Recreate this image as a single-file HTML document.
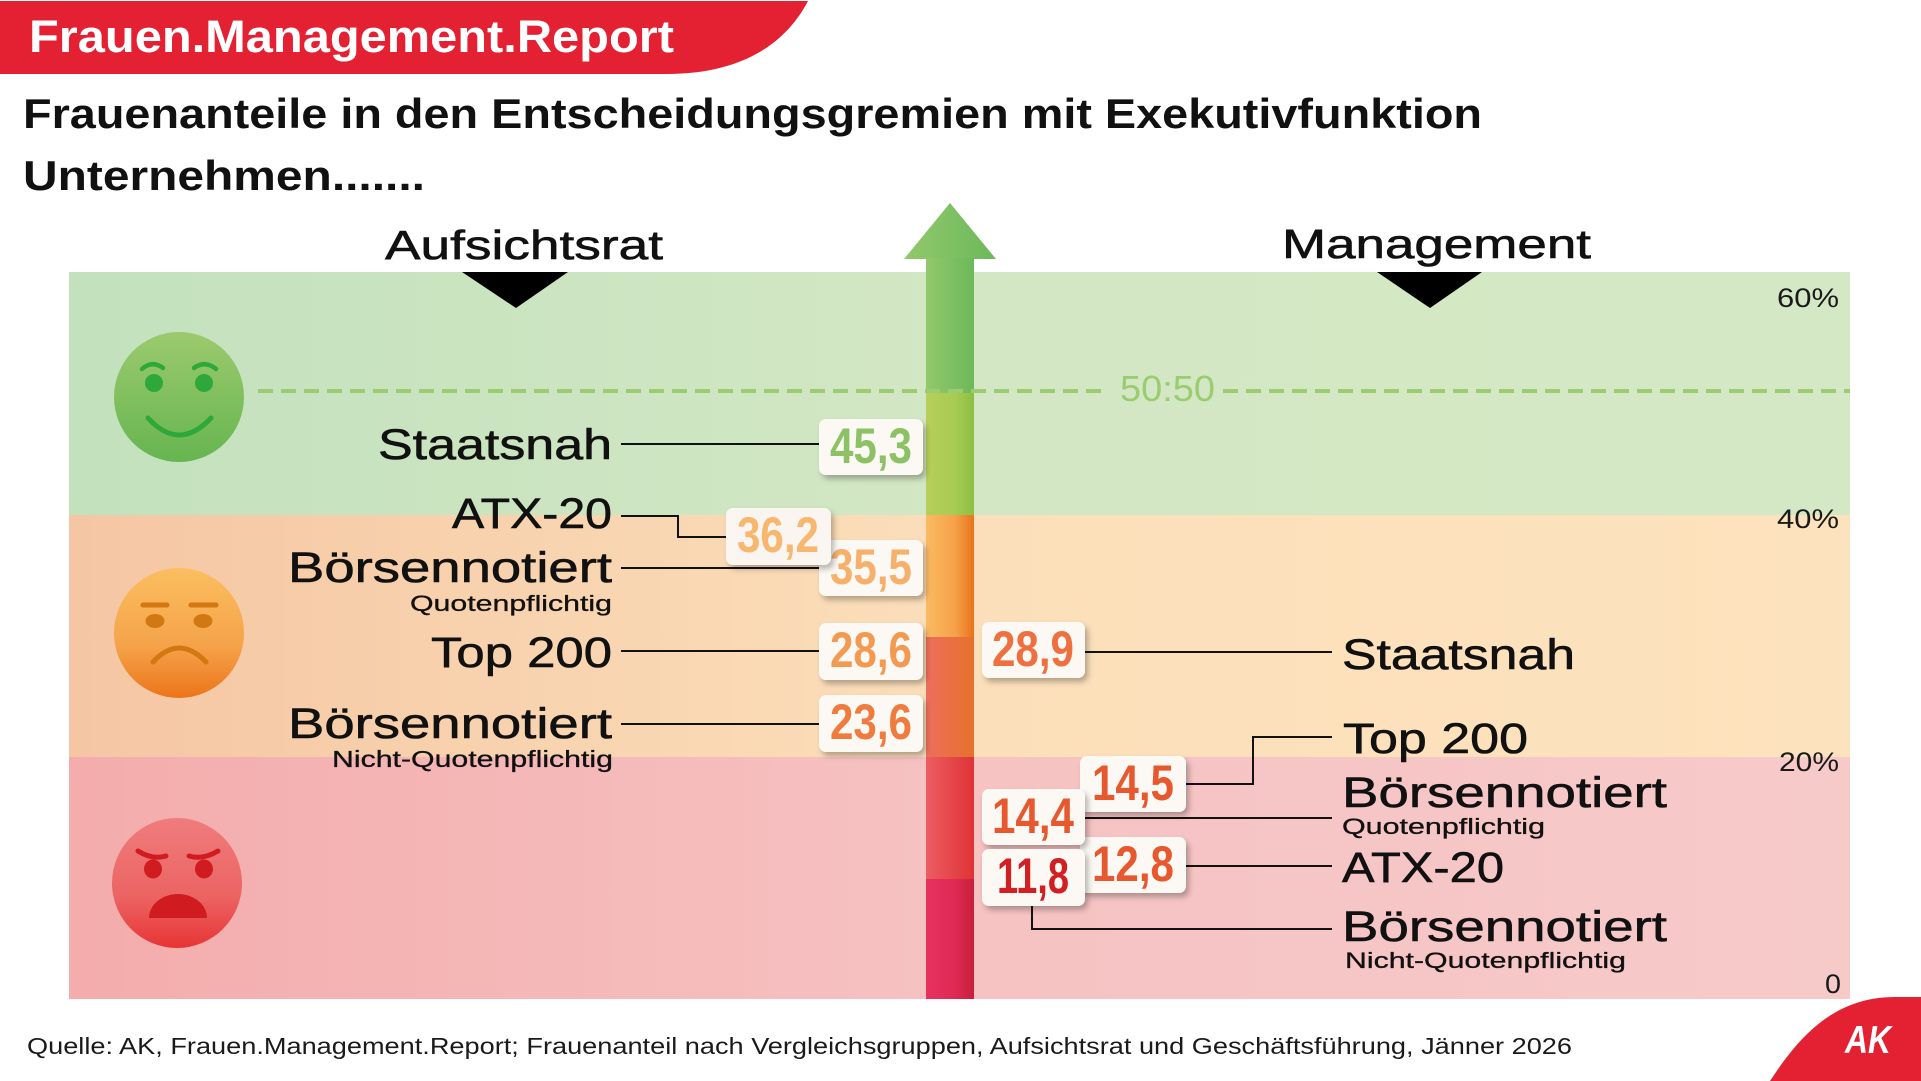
<!DOCTYPE html>
<html>
<head>
<meta charset="utf-8">
<style>
html,body{margin:0;padding:0;background:#fff;}
body{width:1921px;height:1081px;overflow:hidden;}
svg{display:block;}
text{font-family:"Liberation Sans",Arial,sans-serif;}
</style>
</head>
<body>
<svg width="1921" height="1081" viewBox="0 0 1921 1081" xmlns="http://www.w3.org/2000/svg">
<defs>
  <linearGradient id="bg1" x1="69" y1="0" x2="1850" y2="0" gradientUnits="userSpaceOnUse">
    <stop offset="0" stop-color="#c3e1bd"/><stop offset="0.5" stop-color="#d3e7c4"/><stop offset="1" stop-color="#d5e8c5"/>
  </linearGradient>
  <linearGradient id="bg2" x1="69" y1="0" x2="1850" y2="0" gradientUnits="userSpaceOnUse">
    <stop offset="0" stop-color="#f5c6a3"/><stop offset="0.5" stop-color="#fbdfba"/><stop offset="1" stop-color="#fde3bd"/>
  </linearGradient>
  <linearGradient id="bg3" x1="69" y1="0" x2="1850" y2="0" gradientUnits="userSpaceOnUse">
    <stop offset="0" stop-color="#f4acac"/><stop offset="0.5" stop-color="#f6c2c2"/><stop offset="1" stop-color="#f7caca"/>
  </linearGradient>
  <linearGradient id="fg" x1="0" y1="0" x2="0" y2="1">
    <stop offset="0" stop-color="#9cca6e"/><stop offset="1" stop-color="#66b550"/>
  </linearGradient>
  <linearGradient id="fo" x1="0" y1="0" x2="0" y2="1">
    <stop offset="0" stop-color="#fbbe60"/><stop offset="0.6" stop-color="#f5a34a"/><stop offset="1" stop-color="#ec741a"/>
  </linearGradient>
  <linearGradient id="fr" x1="0" y1="0" x2="0" y2="1">
    <stop offset="0" stop-color="#f07c7c"/><stop offset="0.6" stop-color="#ec6464"/><stop offset="1" stop-color="#e83434"/>
  </linearGradient>
  <linearGradient id="a1" x1="0" y1="0" x2="1" y2="0">
    <stop offset="0" stop-color="#92c86c"/><stop offset="1" stop-color="#6cb95b"/>
  </linearGradient>
  <linearGradient id="a2" x1="0" y1="0" x2="1" y2="0">
    <stop offset="0" stop-color="#b6cf5b"/><stop offset="0.6" stop-color="#a8cb52"/><stop offset="1" stop-color="#8abf44"/>
  </linearGradient>
  <linearGradient id="a3" x1="0" y1="0" x2="1" y2="0">
    <stop offset="0" stop-color="#fbba62"/><stop offset="0.6" stop-color="#f5a24a"/><stop offset="1" stop-color="#ea731c"/>
  </linearGradient>
  <linearGradient id="a4" x1="0" y1="0" x2="1" y2="0">
    <stop offset="0" stop-color="#ed6e5c"/><stop offset="1" stop-color="#e6722c"/>
  </linearGradient>
  <linearGradient id="a5" x1="0" y1="0" x2="1" y2="0">
    <stop offset="0" stop-color="#ec5d62"/><stop offset="1" stop-color="#df3336"/>
  </linearGradient>
  <linearGradient id="a6" x1="0" y1="0" x2="1" y2="0">
    <stop offset="0" stop-color="#e8315f"/><stop offset="0.6" stop-color="#de2a55"/><stop offset="1" stop-color="#c81f3a"/>
  </linearGradient>
  <filter id="sh" x="-20%" y="-20%" width="150%" height="160%">
    <feDropShadow dx="3" dy="4" stdDeviation="3" flood-color="#000" flood-opacity="0.28"/>
  </filter>
</defs>

<!-- header -->
<path d="M0,1 H808 C785,45 740,74 667,74 H0 Z" fill="#e42033"/>
<text x="29" y="52" font-size="45" font-weight="bold" fill="#fff" textLength="645" lengthAdjust="spacingAndGlyphs">Frauen.Management.Report</text>

<!-- title -->
<text x="23" y="128" font-size="42" font-weight="bold" fill="#111" textLength="1459" lengthAdjust="spacingAndGlyphs">Frauenanteile in den Entscheidungsgremien mit Exekutivfunktion</text>
<text x="23" y="190" font-size="42" font-weight="bold" fill="#111" textLength="402" lengthAdjust="spacingAndGlyphs">Unternehmen.......</text>

<!-- column heads -->
<text x="385" y="259" font-size="41" fill="#111" stroke="#111" stroke-width="0.6" textLength="278" lengthAdjust="spacingAndGlyphs">Aufsichtsrat</text>
<text x="1282" y="258" font-size="41" fill="#111" stroke="#111" stroke-width="0.6" textLength="309" lengthAdjust="spacingAndGlyphs">Management</text>

<!-- bands -->
<rect x="69" y="272" width="1781" height="243" fill="url(#bg1)"/>
<rect x="69" y="515" width="1781" height="242" fill="url(#bg2)"/>
<rect x="69" y="757" width="1781" height="242" fill="url(#bg3)"/>

<!-- triangles -->
<polygon points="462,272 568,272 516,308" fill="#000"/>
<polygon points="1377,272 1482,272 1430,308" fill="#000"/>

<!-- tick labels -->
<text x="1777" y="307" font-size="27" fill="#1a1a1a" textLength="62" lengthAdjust="spacingAndGlyphs">60%</text>
<text x="1777" y="528" font-size="27" fill="#1a1a1a" textLength="62" lengthAdjust="spacingAndGlyphs">40%</text>
<text x="1779" y="771" font-size="27" fill="#1a1a1a" textLength="60" lengthAdjust="spacingAndGlyphs">20%</text>
<text x="1825" y="993" font-size="27" fill="#1a1a1a" textLength="16" lengthAdjust="spacingAndGlyphs">0</text>

<!-- faces -->
<g>
  <circle cx="179" cy="397" r="65" fill="url(#fg)"/>
  <circle cx="154" cy="383" r="9" fill="#2ea83a"/>
  <circle cx="204" cy="383" r="9" fill="#2ea83a"/>
  <path d="M142,369 Q152,360 163,368" stroke="#2ea83a" stroke-width="4.5" fill="none" stroke-linecap="round"/>
  <path d="M194,368 Q205,360 216,369" stroke="#2ea83a" stroke-width="4.5" fill="none" stroke-linecap="round"/>
  <path d="M148,418 Q179,452 211,418" stroke="#2ea83a" stroke-width="5" fill="none" stroke-linecap="round"/>
</g>
<g>
  <circle cx="179" cy="633" r="65" fill="url(#fo)"/>
  <line x1="143" y1="605" x2="167" y2="605" stroke="#d27810" stroke-width="5" stroke-linecap="round"/>
  <line x1="191" y1="605" x2="216" y2="605" stroke="#d27810" stroke-width="5" stroke-linecap="round"/>
  <ellipse cx="155" cy="621" rx="9.5" ry="7" fill="#d27810"/>
  <ellipse cx="203" cy="621" rx="9.5" ry="7" fill="#d27810"/>
  <path d="M153,662 Q179,634 206,662" stroke="#d27810" stroke-width="5" fill="none" stroke-linecap="round"/>
</g>
<g>
  <circle cx="177" cy="883" r="65" fill="url(#fr)"/>
  <path d="M138,851 Q152,860 166,856" stroke="#d01c20" stroke-width="5" fill="none" stroke-linecap="round"/>
  <path d="M189,856 Q203,860 218,851" stroke="#d01c20" stroke-width="5" fill="none" stroke-linecap="round"/>
  <ellipse cx="153" cy="869" rx="9" ry="9.5" fill="#d01c20"/>
  <ellipse cx="204" cy="869" rx="9" ry="9.5" fill="#d01c20"/>
  <path d="M149,918 A29,24 0 0 1 207,918 Z" fill="#d01c20"/>
</g>

<!-- arrow -->
<polygon points="950,203 996,259 904,259" fill="url(#a1)"/>
<rect x="926" y="258" width="48" height="135" fill="url(#a1)"/>
<rect x="926" y="393" width="48" height="122" fill="url(#a2)"/>
<rect x="926" y="515" width="48" height="122" fill="url(#a3)"/>
<rect x="926" y="637" width="48" height="120" fill="url(#a4)"/>
<rect x="926" y="757" width="48" height="122" fill="url(#a5)"/>
<rect x="926" y="879" width="48" height="120" fill="url(#a6)"/>

<!-- 50:50 dashed line -->
<line x1="258" y1="391" x2="1106" y2="391" stroke="#9ccc72" stroke-width="4" stroke-dasharray="15 8"/>
<line x1="1223" y1="391" x2="1850" y2="391" stroke="#9ccc72" stroke-width="4" stroke-dasharray="15 8"/>
<text x="1120" y="401" font-size="36" fill="#9acc70" textLength="95" lengthAdjust="spacingAndGlyphs">50:50</text>

<!-- left labels -->
<g fill="#111">
  <text x="378" y="459" font-size="43" textLength="234" lengthAdjust="spacingAndGlyphs" stroke="#111" stroke-width="0.6">Staatsnah</text>
  <text x="452" y="528" font-size="43" textLength="160" lengthAdjust="spacingAndGlyphs" stroke="#111" stroke-width="0.6">ATX-20</text>
  <text x="288" y="582" font-size="43" textLength="324" lengthAdjust="spacingAndGlyphs" stroke="#111" stroke-width="0.6">Börsennotiert</text>
  <text x="410" y="611" font-size="22" textLength="202" lengthAdjust="spacingAndGlyphs" stroke="#111" stroke-width="0.3">Quotenpflichtig</text>
  <text x="431" y="667" font-size="43" textLength="181" lengthAdjust="spacingAndGlyphs" stroke="#111" stroke-width="0.6">Top 200</text>
  <text x="288" y="738" font-size="43" textLength="324" lengthAdjust="spacingAndGlyphs" stroke="#111" stroke-width="0.6">Börsennotiert</text>
  <text x="332" y="767" font-size="23" textLength="281" lengthAdjust="spacingAndGlyphs" stroke="#111" stroke-width="0.3">Nicht-Quotenpflichtig</text>
</g>

<!-- right labels -->
<g fill="#111">
  <text x="1342" y="669" font-size="43" textLength="233" lengthAdjust="spacingAndGlyphs" stroke="#111" stroke-width="0.6">Staatsnah</text>
  <text x="1343" y="753" font-size="43" textLength="185" lengthAdjust="spacingAndGlyphs" stroke="#111" stroke-width="0.6">Top 200</text>
  <text x="1342" y="807" font-size="43" textLength="325" lengthAdjust="spacingAndGlyphs" stroke="#111" stroke-width="0.6">Börsennotiert</text>
  <text x="1342" y="834" font-size="22" textLength="203" lengthAdjust="spacingAndGlyphs" stroke="#111" stroke-width="0.3">Quotenpflichtig</text>
  <text x="1342" y="882" font-size="43" textLength="162" lengthAdjust="spacingAndGlyphs" stroke="#111" stroke-width="0.6">ATX-20</text>
  <text x="1342" y="941" font-size="43" textLength="325" lengthAdjust="spacingAndGlyphs" stroke="#111" stroke-width="0.6">Börsennotiert</text>
  <text x="1345" y="968" font-size="22" textLength="281" lengthAdjust="spacingAndGlyphs" stroke="#111" stroke-width="0.3">Nicht-Quotenpflichtig</text>
</g>

<!-- connector lines -->
<g stroke="#111" stroke-width="2" fill="none">
  <polyline points="621,444 819,444"/>
  <polyline points="621,516 678,516 678,537 726,537"/>
  <polyline points="621,568 819,568"/>
  <polyline points="621,651 819,651"/>
  <polyline points="621,724 819,724"/>
  <polyline points="1085,652 1332,652"/>
  <polyline points="1332,737 1253,737 1253,784 1186,784"/>
  <polyline points="1085,818 1332,818"/>
  <polyline points="1186,866 1332,866"/>
  <polyline points="1032,906 1032,929 1332,929"/>
</g>

<!-- value boxes -->
<g font-size="50" font-weight="bold" text-anchor="middle">
  <rect x="819" y="419" width="104" height="56" rx="7" fill="#fcf8f3" filter="url(#sh)"/>
  <text x="871" y="463" fill="#8cc265" textLength="82" lengthAdjust="spacingAndGlyphs">45,3</text>

  <rect x="819" y="540" width="104" height="56" rx="7" fill="#fcf8f3" filter="url(#sh)"/>
  <text x="871" y="584" fill="#f6b06b" textLength="82" lengthAdjust="spacingAndGlyphs">35,5</text>

  <rect x="726" y="508" width="105" height="57" rx="7" fill="#fcf8f3" fill-opacity="0.95" filter="url(#sh)"/>
  <text x="778" y="552" fill="#f7b76f" textLength="82" lengthAdjust="spacingAndGlyphs">36,2</text>

  <rect x="819" y="623" width="104" height="57" rx="7" fill="#fcf8f3" filter="url(#sh)"/>
  <text x="871" y="667" fill="#f39a52" textLength="82" lengthAdjust="spacingAndGlyphs">28,6</text>

  <rect x="819" y="695" width="104" height="57" rx="7" fill="#fcf8f3" filter="url(#sh)"/>
  <text x="871" y="739" fill="#ef7b3e" textLength="82" lengthAdjust="spacingAndGlyphs">23,6</text>

  <rect x="982" y="622" width="103" height="56" rx="7" fill="#fcf8f3" filter="url(#sh)"/>
  <text x="1033" y="666" fill="#ee7040" textLength="82" lengthAdjust="spacingAndGlyphs">28,9</text>

  <rect x="1080" y="756" width="106" height="56" rx="7" fill="#fcf8f3" filter="url(#sh)"/>
  <text x="1133" y="800" fill="#e8582e" textLength="82" lengthAdjust="spacingAndGlyphs">14,5</text>

  <rect x="1080" y="837" width="106" height="56" rx="7" fill="#fcf8f3" filter="url(#sh)"/>
  <text x="1133" y="881" fill="#e8582e" textLength="82" lengthAdjust="spacingAndGlyphs">12,8</text>

  <rect x="982" y="789" width="103" height="56" rx="7" fill="#fcf8f3" filter="url(#sh)"/>
  <text x="1033" y="833" fill="#e8582e" textLength="82" lengthAdjust="spacingAndGlyphs">14,4</text>

  <rect x="982" y="849" width="103" height="57" rx="7" fill="#fcf8f3" filter="url(#sh)"/>
  <text x="1033" y="893" fill="#d11f24" textLength="72" lengthAdjust="spacingAndGlyphs">11,8</text>
</g>

<!-- footer -->
<text x="27" y="1054" font-size="23" fill="#1a1a1a" textLength="1545" lengthAdjust="spacingAndGlyphs">Quelle: AK, Frauen.Management.Report; Frauenanteil nach Vergleichsgruppen, Aufsichtsrat und Geschäftsführung, Jänner 2026</text>

<!-- AK logo -->
<path d="M1770,1081 C1800,1035 1835,997 1895,997 L1921,997 L1921,1081 Z" fill="#e42033"/>
<text x="1845" y="1053" font-size="39" font-weight="bold" font-style="italic" fill="#fff" textLength="46" lengthAdjust="spacingAndGlyphs">AK</text>
</svg>
</body>
</html>
